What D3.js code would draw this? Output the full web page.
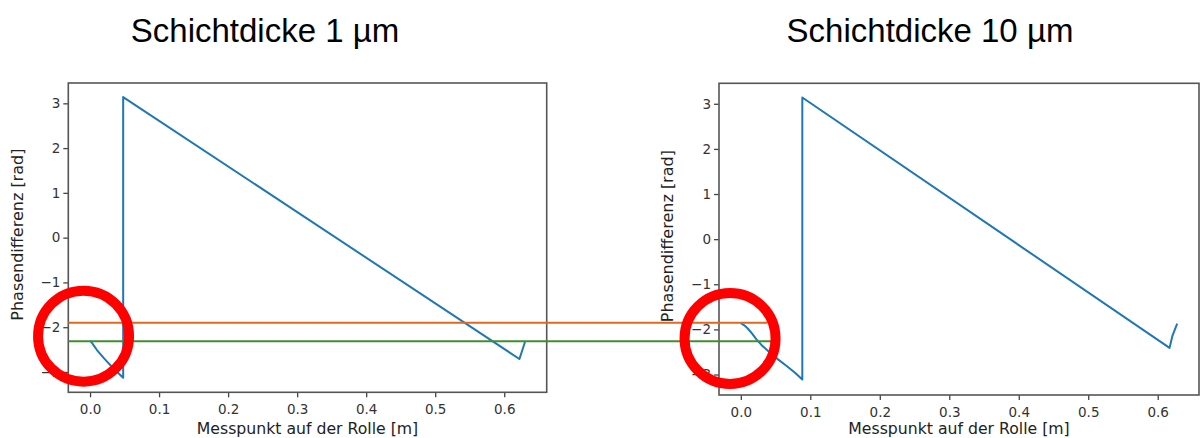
<!DOCTYPE html>
<html><head><meta charset="utf-8">
<script src="https://cdn.jsdelivr.net/npm/d3@7"></script>
<style>html,body{margin:0;padding:0;background:#fff;}</style>
</head><body>
<svg id="chart" width="1200" height="438"></svg>
<script>
// ---- data ----
const titles = ["Schichtdicke 1 µm", "Schichtdicke 10 µm"];
const xLabel = "Messpunkt auf der Rolle [m]";
const yLabel = "Phasendifferenz [rad]";
const xTicks = [0.0, 0.1, 0.2, 0.3, 0.4, 0.5, 0.6];
const yTicks = [-3, -2, -1, 0, 1, 2, 3];
// 1 µm layer
const thinX = [0, 0.002, 0.005, 0.01, 0.015, 0.02, 0.026, 0.032, 0.04, 0.048, 0.048, 0.622, 0.63];
const thinY = [-2.31, -2.33, -2.40, -2.51, -2.60, -2.69, -2.79, -2.89, -3.01, -3.13, 3.14, -2.71, -2.33];
// 10 µm layer
const thickX = [0, 0.005, 0.01, 0.016, 0.0225, 0.03, 0.042, 0.054, 0.066, 0.078, 0.0885, 0.0885, 0.617, 0.621, 0.628];
const thickY = [-1.86, -1.91, -1.98, -2.09, -2.22, -2.35, -2.52, -2.67, -2.81, -2.96, -3.11, 3.14, -2.41, -2.15, -1.87];
// annotation levels (in units of the left panel) and their right end (in units of the right panel)
const refLevels = [-1.90, -2.315];
const refEnds = [0.038, 0.044];
const refColors = ["#dd6a1f", "#3f8f2f"];
// circle marks: centres in data units of each panel
const circleX = [-0.0094, -0.0155];
const circleY = [-2.20, -2.20];

// ---- layout ----
const panels = [
  {x: thinX, y: thinY, frame: {l: 68.3, r: 546.7, t: 83, b: 392.3}, titleX: 265, ylabX: 18},
  {x: thickX, y: thickY, frame: {l: 719, r: 1199, t: 83.3, b: 395}, titleX: 930, ylabX: 668}
];
const svg = d3.select("#chart");
svg.append("rect").attr("width", 1200).attr("height", 438).attr("fill", "#fff");

const scales = [];
panels.forEach((p, i) => {
  const f = p.frame;
  const [x0, x1] = d3.extent(p.x), [y0, y1] = d3.extent(p.y);
  const mx = (x1 - x0) * 0.05, ymax = Math.max(Math.abs(y0), Math.abs(y1)), my = 2 * ymax * 0.05;
  const xs = d3.scaleLinear().domain([x0 - mx, x1 + mx]).range([f.l, f.r]);
  const ys = d3.scaleLinear().domain([-ymax - my, ymax + my]).range([f.b, f.t]);
  scales.push({xs, ys});
  const g = svg.append("g");
  // line
  const pts = p.x.map((v, k) => [v, p.y[k]]);
  g.append("path").datum(pts)
    .attr("d", d3.line().x(d => xs(d[0])).y(d => ys(d[1])))
    .attr("fill", "none").attr("stroke", "#1f77b4").attr("stroke-width", 2)
    .attr("stroke-linejoin", "round");
  // axes
  const ax = g.append("g").attr("transform", `translate(0,${f.b})`)
    .call(d3.axisBottom(xs).tickValues(xTicks).tickFormat(d3.format(".1f")).tickSize(5).tickSizeOuter(0));
  const ay = g.append("g").attr("transform", `translate(${f.l},0)`)
    .call(d3.axisLeft(ys).tickValues(yTicks).tickFormat(d => d < 0 ? "\u2212" + Math.abs(d) : d).tickSize(5).tickSizeOuter(0));
  [ax, ay].forEach(a => {
    a.select(".domain").remove();
    a.selectAll("line").attr("stroke", "#444").attr("stroke-width", 1.3);
    a.selectAll("text").attr("fill", "#333").attr("font-family", "DejaVu Sans").attr("font-size", 13.5);
  });
  ax.selectAll("text").attr("dy", "1.05em");
  // frame
  g.append("rect").attr("x", f.l).attr("y", f.t).attr("width", f.r - f.l).attr("height", f.b - f.t)
    .attr("fill", "none").attr("stroke", "#555").attr("stroke-width", 1.6);
  // labels
  svg.append("text").attr("x", (f.l + f.r) / 2).attr("y", 434).attr("text-anchor", "middle")
    .attr("font-family", "DejaVu Sans").attr("font-size", 15.7).attr("fill", "#222").text(xLabel);
  svg.append("text").attr("transform", `translate(${p.ylabX + 5},${(f.t + f.b) / 2 - 3}) rotate(-90)`)
    .attr("text-anchor", "middle").attr("font-family", "DejaVu Sans").attr("font-size", 16).attr("fill", "#222").text(yLabel);
  svg.append("text").attr("x", p.titleX).attr("y", 42).attr("text-anchor", "middle")
    .attr("font-family", "Liberation Sans, Arial").attr("font-size", 33).attr("fill", "#000").text(titles[i]);
});

// reference lines
refLevels.forEach((lv, k) => {
  const y = scales[0].ys(lv);
  svg.append("line").attr("x1", panels[0].frame.l).attr("x2", scales[1].xs(refEnds[k]))
    .attr("y1", y).attr("y2", y).attr("stroke", refColors[k]).attr("stroke-width", 2);
});
// red circles
circleX.forEach((cx, k) => {
  svg.append("circle").attr("cx", scales[k].xs(cx)).attr("cy", scales[k].ys(circleY[k]))
    .attr("r", 45.5).attr("fill", "none").attr("stroke", "#ff0000").attr("stroke-width", 10);
});
</script>
</body></html>
